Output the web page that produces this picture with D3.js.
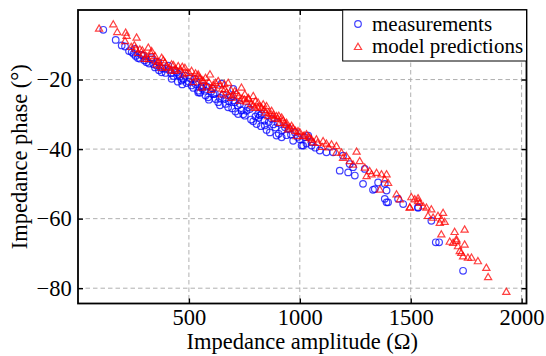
<!DOCTYPE html>
<html>
<head>
<meta charset="utf-8">
<script src="https://cdn.jsdelivr.net/npm/d3@7"></script>
<style>
  body { margin: 0; background: #fff; }
  svg { display: block; font-family: "Liberation Serif", "DejaVu Serif", serif; }
</style>
</head>
<body>
<svg id="chart" width="546" height="356"></svg>
<script>
// measured impedance points [amplitude (Ohm), phase (deg)]
const measured = [
  [114, -5.7], [170, -8.6], [212, -10.5], [242, -12.1], [279, -14.0], [309, -15.0], [347, -16.5],
  [377, -17.9], [422, -19.8], [467, -20.3], [512, -21.7], [542, -23.2], [407, -16.0], [437, -17.4],
  [482, -18.9], [332, -13.6], [197, -10.2], [257, -11.2], [294, -13.1], [362, -15.0], [392, -16.9],
  [452, -18.4], [527, -19.8], [557, -22.2],
  [542, -23.7], [587, -25.1], [632, -26.5], [677, -28.0], [722, -29.9], [752, -30.4], [805, -32.8],
  [842, -33.2], [895, -36.1], [918, -36.6], [970, -37.6], [1008, -39.0], [1053, -38.0], [572, -23.2],
  [617, -24.1], [662, -25.6], [707, -26.5], [767, -28.0], [828, -29.9], [873, -31.3], [933, -33.7],
  [978, -35.2], [1023, -36.6], [812, -29.9], [737, -28.9], [647, -21.2], [700, -22.7],
  [260, -13.2], [300, -14.5], [340, -15.6], [380, -16.8], [420, -18.2], [460, -19.2], [500, -20.6],
  [530, -21.3], [560, -22.6], [600, -23.5], [640, -25.3], [680, -26.2], [720, -27.5], [760, -29.0],
  [800, -30.6], [840, -31.8], [880, -32.9], [920, -34.6], [960, -35.8], [1000, -37.2], [470, -21.4],
  [590, -25.8], [710, -29.2], [850, -34.5], [640, -27.4], [780, -31.5], [450, -20.6], [550, -23.8],
  [230, -11.8], [250, -12.6], [270, -13.8], [285, -12.9], [320, -15.4], [330, -14.2], [355, -16.0],
  [365, -17.3], [395, -18.1], [410, -17.2], [430, -19.0], [445, -18.0], [475, -19.9], [490, -21.0],
  [505, -19.6], [520, -22.4], [535, -20.7], [565, -21.8], [575, -24.6], [605, -22.6], [620, -25.6],
  [655, -24.4], [665, -27.0], [690, -25.0], [695, -28.3], [730, -27.0], [745, -30.0], [775, -28.5],
  [790, -32.0], [815, -31.0], [825, -33.4], [860, -32.2], [865, -35.2], [890, -33.8], [905, -35.6],
  [940, -36.0], [950, -34.2], [990, -36.5], [1030, -38.4], [1070, -39.6], [610, -24.2], [700, -26.0],
  [820, -30.3], [900, -32.5], [580, -22.0],
  [1038, -36.1], [1015, -39.0], [1053, -39.0], [1090, -40.4], [1120, -40.9], [1150, -40.9],
  [1195, -41.9], [1225, -44.3], [1240, -45.2], [1180, -46.2], [1248, -47.6], [1285, -50.0],
  [1338, -51.5], [1353, -49.6], [1383, -50.0], [1391, -51.9], [1383, -54.3], [1398, -55.3],
  [1443, -54.3], [1533, -56.7], [1218, -46.7], [1293, -45.7], [1330, -51.7], [1391, -55.3],
  [1466, -55.8], [1533, -56.9], [1593, -60.6], [1613, -66.8], [1628, -66.8], [1736, -75.0]
];

// model predictions [amplitude (Ohm), phase (deg)]
const predicted = [
  [95, -5.2], [159, -4.0], [177, -6.2], [215, -6.4], [219, -7.3], [264, -7.8], [212, -8.8],
  [254, -10.0], [317, -10.7], [332, -11.7], [279, -11.2], [294, -12.6], [347, -13.1], [377, -13.6],
  [317, -14.0], [392, -15.0], [422, -15.5], [452, -16.0], [482, -16.5], [512, -17.4], [542, -18.4],
  [437, -17.4], [474, -18.4], [377, -16.5], [354, -15.5],
  [542, -18.9], [595, -18.4], [565, -20.3], [632, -20.3], [610, -22.2], [677, -20.8], [662, -22.7],
  [707, -23.2], [737, -22.2], [752, -24.1], [767, -25.1], [790, -24.6], [812, -26.5], [828, -28.0],
  [850, -27.5], [873, -28.9], [895, -30.4], [918, -30.8], [940, -32.3], [963, -33.2], [992, -34.7],
  [1030, -35.6], [1053, -37.1], [557, -22.2], [647, -24.1], [692, -25.1], [730, -26.0], [797, -28.0],
  [857, -30.4], [910, -32.3], [947, -34.2], [985, -36.1],
  [270, -12.2], [310, -13.3], [350, -14.4], [400, -16.2], [440, -16.9], [490, -18.0], [520, -19.2],
  [560, -20.1], [610, -21.4], [650, -22.5], [700, -24.2], [740, -25.3], [780, -26.9], [820, -27.6],
  [860, -29.4], [900, -31.2], [940, -32.9], [980, -34.6], [1020, -36.0], [1060, -37.9], [1100, -39.2],
  [580, -21.8], [690, -23.0], [760, -26.2], [840, -28.6], [420, -17.3], [880, -30.0],
  [240, -10.5], [260, -11.0], [290, -11.5], [300, -13.9], [330, -12.5], [360, -14.8], [370, -15.9],
  [385, -14.3], [410, -16.6], [430, -15.7], [460, -17.0], [470, -16.2], [500, -17.9], [530, -18.1],
  [550, -19.5], [575, -19.4], [590, -20.6], [620, -20.8], [640, -21.6], [660, -21.2], [670, -23.5],
  [715, -23.8], [725, -24.6], [750, -25.6], [770, -25.5], [800, -26.1], [810, -27.9], [835, -27.0],
  [845, -29.4], [870, -29.8], [885, -31.0], [925, -31.6], [930, -32.5], [955, -33.6], [970, -33.9],
  [1000, -35.0], [1040, -36.3], [1080, -38.1], [1120, -38.3], [1130, -39.4], [520, -20.6],
  [600, -22.8], [680, -24.5], [790, -27.3], [905, -30.3],
  [1015, -36.1], [1045, -36.6], [1075, -37.1], [1105, -37.6], [1143, -38.5], [1165, -39.0],
  [1188, -40.9], [1210, -41.9], [1256, -40.6], [1225, -43.3], [1270, -43.3], [1293, -45.2],
  [1315, -46.2], [1301, -47.6], [1346, -46.7], [1368, -47.1], [1391, -47.1], [1361, -51.5],
  [1398, -49.6], [1436, -52.9], [1451, -54.3], [1496, -56.7], [1518, -54.3], [1533, -54.8],
  [1165, -40.9], [1195, -42.4], [1240, -44.3], [1323, -47.1], [1383, -48.6],
  [1503, -53.7], [1533, -54.0], [1496, -56.6], [1541, -55.3], [1556, -56.3], [1571, -56.7],
  [1593, -57.2], [1578, -59.1], [1601, -59.6], [1623, -59.1], [1638, -60.1], [1646, -58.2],
  [1631, -61.1], [1653, -60.8], [1638, -64.4], [1698, -63.7], [1743, -63.0], [1676, -66.5],
  [1706, -66.3], [1691, -66.8], [1713, -67.8], [1743, -67.3], [1728, -69.7], [1736, -70.7],
  [1758, -71.1], [1774, -71.1], [1803, -72.1], [1841, -74.0], [1849, -76.7], [1931, -80.9],
  [1721, -69.2], [1706, -65.8]
];

const xTicks = [500, 1000, 1500, 2000];
const yTicks = [-20, -40, -60, -80];
const seriesNames = ['measurements', 'model predictions'];

const margin = { left: 78, right: 526.5, top: 10, bottom: 303.5 };
const fontSize = '22.5px';
const legendFontSize = '21px';
const blue = '#0000ff';
const red = '#ff0000';

const svg = d3.select('#chart');

const x = d3.scaleLinear().domain([0, 2022]).range([margin.left, margin.right]);
const y = d3.scaleLinear().domain([-84.4, 0]).range([margin.bottom, margin.top]);

// grid
const grid = svg.append('g').attr('stroke', '#b0b0b0').attr('stroke-width', 1).attr('stroke-dasharray', '4.5,3');
grid.selectAll('.gx').data(xTicks).enter().append('line')
  .attr('x1', (d) => x(d)).attr('x2', (d) => x(d))
  .attr('y1', margin.top).attr('y2', margin.bottom);
grid.selectAll('.gy').data(yTicks).enter().append('line')
  .attr('y1', (d) => y(d)).attr('y2', (d) => y(d))
  .attr('x1', margin.left).attr('x2', margin.right);

// markers
const triangle = 'M0,-3.2L3.6,3L-3.6,3Z';

svg.append('g').selectAll('circle').data(measured).enter().append('circle')
  .attr('cx', (d) => x(d[0])).attr('cy', (d) => y(d[1])).attr('r', 3.3)
  .style('fill', 'none').style('stroke', blue).style('stroke-width', 1.2).style('stroke-opacity', 0.75);

svg.append('g').selectAll('path').data(predicted).enter().append('path')
  .attr('d', triangle)
  .attr('transform', (d) => `translate(${x(d[0])},${y(d[1])})`)
  .style('fill', 'none').style('stroke', red).style('stroke-width', 1.2).style('stroke-opacity', 0.75);

// axes (ticks point inward)
function styleAxis(g) {
  g.select('.domain').remove();
  g.selectAll('.tick line').attr('stroke', '#000').attr('stroke-width', 1.4);
  g.selectAll('.tick text').attr('fill', '#000').style('font-size', fontSize)
    .style('font-family', '"Liberation Serif", serif');
}

const fmt = d3.format('d');

svg.append('g').attr('transform', `translate(0,${margin.bottom})`)
  .call(d3.axisBottom(x).tickValues(xTicks).tickFormat(fmt).tickSize(-5).tickPadding(6))
  .call(styleAxis);
svg.append('g').attr('transform', `translate(0,${margin.top})`)
  .call(d3.axisTop(x).tickValues(xTicks).tickSize(-5).tickFormat(''))
  .call(styleAxis);
svg.append('g').attr('transform', `translate(${margin.left},0)`)
  .call(d3.axisLeft(y).tickValues(yTicks).tickFormat(fmt).tickSize(-5).tickPadding(6.3))
  .call(styleAxis);
svg.append('g').attr('transform', `translate(${margin.right},0)`)
  .call(d3.axisRight(y).tickValues(yTicks).tickSize(-5).tickFormat(''))
  .call(styleAxis);

// frame
svg.append('rect')
  .attr('x', margin.left).attr('y', margin.top)
  .attr('width', margin.right - margin.left).attr('height', margin.bottom - margin.top)
  .style('fill', 'none').style('stroke', '#000').style('stroke-width', 1.8);

// axis labels
svg.append('text')
  .attr('x', (margin.left + margin.right) / 2).attr('y', 348.5)
  .attr('text-anchor', 'middle').style('font-size', fontSize)
  .text('Impedance amplitude (Ω)');
svg.append('text')
  .attr('transform', `translate(27,${(margin.top + margin.bottom) / 2}) rotate(-90)`)
  .attr('text-anchor', 'middle').style('font-size', fontSize)
  .text('Impedance phase (°)');

// legend
const legend = svg.append('g');
legend.append('rect')
  .attr('x', 342.7).attr('y', 10).attr('width', 183.8).attr('height', 51)
  .style('fill', '#fff').style('stroke', '#000').style('stroke-width', 1);
legend.append('circle')
  .attr('cx', 358).attr('cy', 24).attr('r', 3.3)
  .style('fill', 'none').style('stroke', blue).style('stroke-width', 1.2).style('stroke-opacity', 0.75);
legend.append('path')
  .attr('d', triangle).attr('transform', 'translate(358,46.5)')
  .style('fill', 'none').style('stroke', red).style('stroke-width', 1.2).style('stroke-opacity', 0.75);
legend.selectAll('.lt').data(seriesNames).enter().append('text')
  .attr('x', 372).attr('y', (d, i) => 30.5 + i * 22.5)
  .style('font-size', legendFontSize)
  .text((d) => d);
</script>
</body>
</html>
